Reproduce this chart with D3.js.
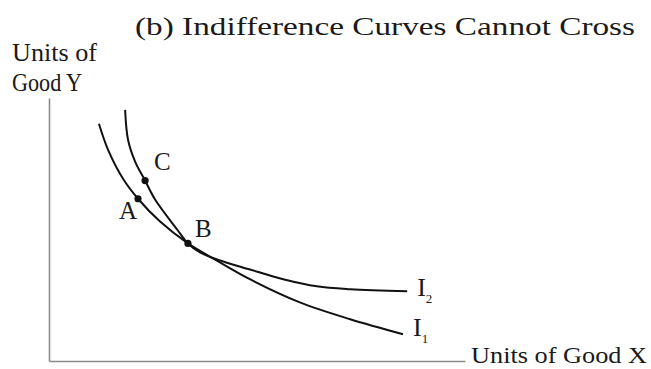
<!DOCTYPE html>
<html>
<head>
<meta charset="utf-8">
<script src="https://cdn.jsdelivr.net/npm/d3@7"></script>
<style>
  body { margin: 0; background: #fff; }
  text { font-family: "Liberation Serif", "Times New Roman", serif; fill: #1a1a1a; }
</style>
</head>
<body>
<div id="chart"></div>
<script>
// curve points (units of good X, units of good Y)
var i1X = [1.20, 1.42, 1.78, 2.14, 2.67, 3.34, 4.11, 4.83, 6.03, 7.24, 8.51];
var i1Y = [9.02, 8.03, 6.93, 6.17, 5.30, 4.47, 3.75, 3.11, 2.23, 1.59, 1.02];
var i2X = [1.83, 1.90, 2.07, 2.31, 2.55, 3.08, 3.34, 3.63, 4.04, 4.83, 5.63, 6.44, 7.24, 8.61];
var i2Y = [9.55, 8.41, 7.58, 6.86, 6.14, 5.00, 4.47, 4.13, 3.86, 3.48, 3.11, 2.84, 2.73, 2.65];

var pointNames = ["A", "C", "B"];
var pointX = [2.14, 2.31, 3.34];
var pointY = [6.17, 6.86, 4.47];

var curveNames = ["I1", "I2"];

var width = 651, height = 369;

var svg = d3.select("#chart").append("svg")
    .attr("width", width)
    .attr("height", height);

var x = d3.scaleLinear().domain([0, 10]).range([49, 465]);
var y = d3.scaleLinear().domain([0, 10]).range([361, 98]);

// axes, no ticks - just the lines
var axisColor = "#8c8c8c";
var xAxis = svg.append("g")
    .attr("transform", "translate(0," + y(0) + ")")
    .call(d3.axisBottom(x).tickValues([]).tickSizeOuter(0));
var yAxis = svg.append("g")
    .attr("transform", "translate(" + x(0) + ",0)")
    .call(d3.axisLeft(y).tickValues([]).tickSizeOuter(0));
svg.selectAll(".domain")
    .attr("stroke", axisColor)
    .attr("stroke-width", 1.6);

var line = d3.line()
    .x(function(d) { return x(d[0]); })
    .y(function(d) { return y(d[1]); })
    .curve(d3.curveCatmullRom.alpha(0.5));

var curves = [d3.zip(i1X, i1Y), d3.zip(i2X, i2Y)];

svg.append("g")
  .selectAll("path")
  .data(curves)
  .enter().append("path")
    .attr("d", line)
    .attr("fill", "none")
    .attr("stroke", "#111")
    .attr("stroke-width", 2);

// curve labels at the right end
var labelOffsets = [[10, 2], [10, 5]];
var lab = svg.append("g")
  .selectAll("text")
  .data(curves)
  .enter().append("text")
    .attr("x", function(d, i) { return x(d[d.length - 1][0]) + labelOffsets[i][0]; })
    .attr("y", function(d, i) { return y(d[d.length - 1][1]) + labelOffsets[i][1]; })
    .attr("font-size", 26);
lab.append("tspan").text("I");
lab.append("tspan")
    .attr("font-size", 13)
    .attr("dy", 7)
    .text(function(d, i) { return curveNames[i].slice(1); });

// points A, C, B
var pts = d3.range(pointNames.length).map(function(i) {
  return { name: pointNames[i], x: pointX[i], y: pointY[i] };
});
svg.append("g")
  .selectAll("circle")
  .data(pts)
  .enter().append("circle")
    .attr("cx", function(d) { return x(d.x); })
    .attr("cy", function(d) { return y(d.y); })
    .attr("r", 3.6)
    .attr("fill", "#111");

var ptOffsets = { A: [-19, 20], C: [9, -11], B: [7, -6] };
svg.append("g")
  .selectAll("text")
  .data(pts)
  .enter().append("text")
    .attr("x", function(d) { return x(d.x) + ptOffsets[d.name][0]; })
    .attr("y", function(d) { return y(d.y) + ptOffsets[d.name][1]; })
    .attr("font-size", 25)
    .text(function(d) { return d.name; });

// title + axis titles
svg.append("text")
    .attr("x", 135).attr("y", 35)
    .attr("font-size", 26)
    .attr("textLength", 500)
    .attr("lengthAdjust", "spacingAndGlyphs")
    .text("(b) Indifference Curves Cannot Cross");

svg.append("text")
    .attr("x", 12).attr("y", 61)
    .attr("font-size", 25)
    .attr("textLength", 85)
    .attr("lengthAdjust", "spacingAndGlyphs")
    .text("Units of");
svg.append("text")
    .attr("x", 12).attr("y", 91)
    .attr("font-size", 25)
    .attr("textLength", 70)
    .attr("lengthAdjust", "spacingAndGlyphs")
    .text("Good Y");

svg.append("text")
    .attr("x", 471).attr("y", 363)
    .attr("font-size", 24)
    .attr("textLength", 176)
    .attr("lengthAdjust", "spacingAndGlyphs")
    .text("Units of Good X");
</script>
</body>
</html>
